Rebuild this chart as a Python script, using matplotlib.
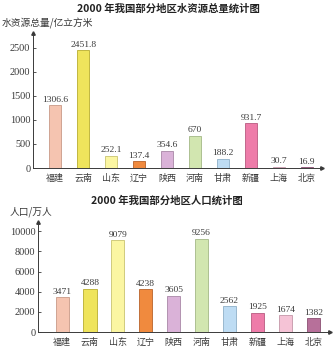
import matplotlib.pyplot as plt
import numpy as np

plt.rcParams['font.family'] = ['Noto Sans CJK SC', 'DejaVu Sans']

# 数据
regions = ['福建', '云南', '山东', '辽宁', '陕西', '河南', '甘肃', '新疆', '上海', '北京']
water = [1306.6, 2451.8, 252.1, 137.4, 354.6, 670, 188.2, 931.7, 30.7, 16.9]
water_text = ['1306.6', '2451.8', '252.1', '137.4', '354.6', '670', '188.2', '931.7', '30.7', '16.9']
people = [3471, 4288, 9079, 4238, 3605, 9256, 2562, 1925, 1674, 1382]
water_ticks = [0, 500, 1000, 1500, 2000, 2500]
people_ticks = [0, 2000, 4000, 6000, 8000, 10000]

colors = ['#f5c4b0', '#efe45c', '#fbf6a2', '#f08a3e', '#dab2d8',
          '#d2e6b0', '#bedcf3', '#ee7ca9', '#f5c3d6', '#b7709a']
edges = ['#c89a88', '#b8ad30', '#c9c470', '#b8622a', '#a887a6',
         '#a3b886', '#8fb0c8', '#b85a80', '#c497a8', '#8a4f72']

ink = '#3a3a3a'
serif = ['Liberation Serif', 'DejaVu Serif']

fig = plt.figure(figsize=(3.34, 3.5), dpi=100)


def draw(ax, vals, labels, ticks, ymax, left_off, right_end, width):
    x = np.arange(len(regions))
    ax.bar(x, vals, width=width, color=colors, edgecolor=edges, linewidth=0.6)
    for xi, v, t in zip(x, vals, labels):
        ax.text(xi, v + ymax * 0.012, t, ha='center', va='bottom',
                fontsize=6.8, family=serif, color=ink)
    ax.set_xlim(-left_off, right_end)
    ax.set_ylim(0, ymax)
    ax.set_yticks(ticks)
    ax.set_yticklabels([str(t) for t in ticks], family=serif, fontsize=7.4, color=ink)
    ax.tick_params(axis='y', direction='in', length=2.5, width=0.6, color=ink, pad=2)
    ax.set_xticks(x)
    ax.set_xticklabels(regions, fontsize=6.5, color=ink)
    ax.tick_params(axis='x', length=0, pad=4)
    for s in ['top', 'right']:
        ax.spines[s].set_visible(False)
    for s in ['left', 'bottom']:
        ax.spines[s].set_color(ink)
        ax.spines[s].set_linewidth(0.7)
    ax.plot(1, 0, '>', color=ink, ms=2.5, transform=ax.transAxes, clip_on=False)
    ax.plot(0, 1, '^', color=ink, ms=2.5, transform=ax.transAxes, clip_on=False)
    ax.patch.set_alpha(0)
    return ax


ax1 = fig.add_axes([0.099, 0.52, 0.865, 0.386])
draw(ax1, water, water_text, water_ticks, 2810, 0.79, 9.54, 0.44)
fig.text(0.503, 0.975, '2000 年我国部分地区水资源总量统计图', ha='center', va='center',
         fontsize=7.5, fontweight='bold', color='#222222')
fig.text(0.006, 0.932, '水资源总量/亿立方米', ha='left', va='center', fontsize=7, color=ink)

ax2 = fig.add_axes([0.114, 0.0514, 0.874, 0.314])
draw(ax2, people, [str(p) for p in people], people_ticks, 10900, 0.86, 9.6, 0.47)
fig.text(0.5, 0.428, '2000 年我国部分地区人口统计图', ha='center', va='center',
         fontsize=7.5, fontweight='bold', color='#222222')
fig.text(0.03, 0.394, '人口/万人', ha='left', va='center', fontsize=7, color=ink)

fig.savefig('out.png', dpi=100)
